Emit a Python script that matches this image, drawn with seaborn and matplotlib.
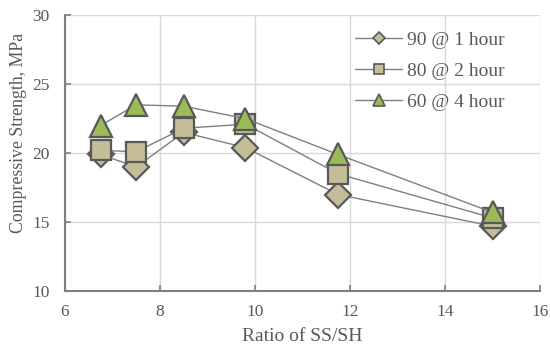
import matplotlib
matplotlib.use("Agg")
import matplotlib.pyplot as plt
from matplotlib.lines import Line2D
import seaborn as sns
import pandas as pd

ratio = [6.75, 7.5, 8.5, 9.8, 11.75, 15.0]
s90_1h = [19.9, 19.0, 21.5, 20.4, 17.0, 14.7]
s80_2h = [20.2, 20.1, 21.8, 22.1, 18.5, 15.3]
s60_4h = [22.0, 23.5, 23.4, 22.5, 19.9, 15.7]
labels = ["90 @ 1 hour", "80 @ 2 hour", "60 @ 4 hour"]

sns.set_theme(style="white")
plt.rcParams["font.family"] = ["Liberation Serif", "DejaVu Serif"]

df = pd.DataFrame({
    "ratio": ratio * 3,
    "strength": s90_1h + s80_2h + s60_4h,
    "series": [labels[0]] * 6 + [labels[1]] * 6 + [labels[2]] * 6,
})

fig = plt.figure(figsize=(5.5, 3.52), dpi=100)
ax = fig.add_axes([0.118, 0.173, 0.864, 0.784])

txt = "#595959"
edge = "#595959"
linec = "#7f7f7f"
tan = "#C4BD97"
green = "#9BBB59"
styles = {
    labels[0]: dict(marker="D", mfc=tan, ms=13, lms=6),
    labels[1]: dict(marker="s", mfc=tan, ms=14, lms=7),
    labels[2]: dict(marker="^", mfc=green, ms=16, lms=8),
}

for lab in labels:
    sub = df[df["series"] == lab]
    st = styles[lab]
    sns.lineplot(data=sub, x="ratio", y="strength", ax=ax, color=linec,
                 lw=1.0, marker=st["marker"], markersize=st["ms"],
                 markerfacecolor=st["mfc"], markeredgecolor=edge,
                 markeredgewidth=1.6, legend=False, zorder=3)

ax.set_xlim(6, 16)
ax.set_ylim(10, 30)
ax.set_xticks([6, 8, 10, 12, 14, 16])
ax.set_yticks([10, 15, 20, 25, 30])
ax.grid(True, color="#d9d9d9", lw=1.0)
ax.set_axisbelow(True)
for s in ["top", "right"]:
    ax.spines[s].set_visible(False)
for s in ["left", "bottom"]:
    ax.spines[s].set_color("#7f7f7f")
    ax.spines[s].set_linewidth(1.5)
ax.tick_params(axis="both", direction="in", length=4, width=1.2, color="#7f7f7f",
               labelsize=12.5, labelcolor=txt, left=True, bottom=True)
ax.tick_params(axis="x", pad=9)
ax.tick_params(axis="y", pad=11)
ax.set_xlabel("Ratio of SS/SH", fontsize=14, color=txt, va="top")
ax.set_ylabel("Compressive Strength, MPa", fontsize=12.8, color=txt)
ax.xaxis.set_label_coords(0.499, -0.135)
ax.yaxis.set_label_coords(-0.08, 0.572)

handles = [Line2D([], [], color=linec, lw=1.0, marker=styles[l]["marker"],
                  markersize=styles[l]["lms"], markerfacecolor=styles[l]["mfc"],
                  markeredgecolor=edge, markeredgewidth=1.2) for l in labels]
leg = ax.legend(handles, labels, loc="upper left", bbox_to_anchor=(0.61, 0.94),
                frameon=False, fontsize=14, handlelength=2.45, labelspacing=0.68,
                handletextpad=0.25, borderpad=0, borderaxespad=0)
for t in leg.get_texts():
    t.set_color(txt)

fig.savefig("out.png", dpi=100)
